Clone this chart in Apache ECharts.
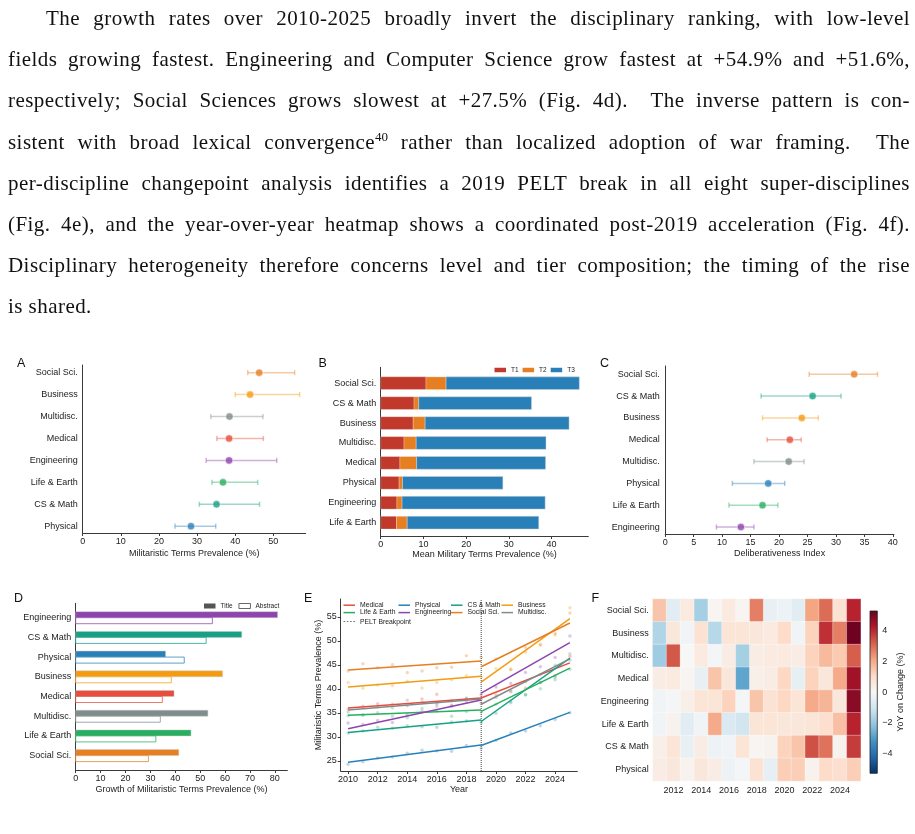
<!DOCTYPE html>
<html>
<head>
<meta charset="utf-8">
<title>Fig. 4</title>
<script src="https://cdn.jsdelivr.net/npm/echarts@6.0.0/dist/echarts.min.js"></script>
<style>
  html, body { margin: 0; padding: 0; background: #fff; }
  #page { position: relative; width: 915px; height: 834px; overflow: hidden; }
  #chart { position: absolute; left: 0; top: 0; width: 915px; height: 834px; }
  .ln { position: absolute; left: 8px; width: 902px; height: 26px; line-height: 26px;
        font-family: "Liberation Serif", "Times New Roman", serif; font-size: 21px; letter-spacing: 0.45px;
        color: #111; text-align: justify; text-align-last: justify; }
  .ln sup { font-size: 13px; line-height: 0; vertical-align: 0.6em; letter-spacing: 0; }
</style>
</head>
<body>
<div id="page">
  <div id="chart"></div>
  <div class="ln" style="top:5px; left:46px; width:864px;">The growth rates over 2010-2025 broadly invert the disciplinary ranking, with low-level</div>
  <div class="ln" style="top:46.2px;">fields growing fastest. Engineering and Computer Science grow fastest at +54.9% and +51.6%,</div>
  <div class="ln" style="top:87.4px;">respectively; Social Sciences grows slowest at +27.5% (Fig. 4d).&nbsp; The inverse pattern is con-</div>
  <div class="ln" style="top:128.6px;">sistent with broad lexical convergence<sup>40</sup> rather than localized adoption of war framing.&nbsp; The</div>
  <div class="ln" style="top:169.8px;">per-discipline changepoint analysis identifies a 2019 PELT break in all eight super-disciplines</div>
  <div class="ln" style="top:211px;">(Fig. 4e), and the year-over-year heatmap shows a coordinated post-2019 acceleration (Fig. 4f).</div>
  <div class="ln" style="top:252.2px;">Disciplinary heterogeneity therefore concerns level and tier composition; the timing of the rise</div>
  <div class="ln" style="top:293.4px; text-align-last:left;">is shared.</div>
</div>
<script>
// ---------- data ----------
// A: militaristic terms prevalence (mean, interval)
var catsA = ['Social Sci.', 'Business', 'Multidisc.', 'Medical', 'Engineering', 'Life & Earth', 'CS & Math', 'Physical'];
var meanA = [46.3, 43.9, 38.5, 38.4, 38.4, 36.8, 35.1, 28.4];
var loA   = [43.3, 40.0, 33.6, 35.2, 32.4, 33.9, 30.6, 24.2];
var hiA   = [55.6, 56.9, 47.3, 47.4, 50.9, 45.9, 46.4, 34.9];
var ticksA = [0, 10, 20, 30, 40, 50];

// B: tier composition
var catsB = ['Social Sci.', 'CS & Math', 'Business', 'Multidisc.', 'Medical', 'Physical', 'Engineering', 'Life & Earth'];
var t1B = [10.6, 7.8, 7.6, 5.45, 4.5, 4.3, 3.8, 3.7];
var t2B = [4.7, 1.1, 2.8, 2.85, 3.9, 0.8, 1.2, 2.5];
var t3B = [31.2, 26.4, 33.7, 30.4, 30.2, 23.5, 33.5, 30.8];
var ticksB = [0, 10, 20, 30, 40];

// C: deliberativeness index
var catsC = ['Social Sci.', 'CS & Math', 'Business', 'Medical', 'Multidisc.', 'Physical', 'Life & Earth', 'Engineering'];
var meanC = [33.2, 25.9, 24.0, 21.9, 21.7, 18.1, 17.1, 13.3];
var loC   = [25.3, 16.85, 17.1, 17.9, 15.6, 11.8, 11.2, 9.0];
var hiC   = [37.3, 30.9, 26.9, 23.9, 24.4, 21.0, 19.8, 15.6];
var ticksC = [0, 5, 10, 15, 20, 25, 30, 35, 40];

// D: growth, title vs abstract
var catsD = ['Engineering', 'CS & Math', 'Physical', 'Business', 'Medical', 'Multidisc.', 'Life & Earth', 'Social Sci.'];
var titleD    = [81.1, 66.7, 36.1, 59.0, 39.5, 53.1, 46.3, 41.4];
var abstractD = [54.9, 52.4, 43.6, 38.4, 34.8, 34.0, 32.2, 29.2];
var ticksD = [0, 10, 20, 30, 40, 50, 60, 70, 80];

// E: yearly prevalence + piecewise fits (2010 -> 2019, 2019 -> 2025)
var years = [2010, 2011, 2012, 2013, 2014, 2015, 2016, 2017, 2018, 2019, 2020, 2021, 2022, 2023, 2024, 2025];
var eMedical     = [35.8, 36.4, 36.9, 36.8, 36.5, 37.9, 38.9, 36.6, 37.3, 37.0, 38.7, 39.4, 40.1, 41.3, 42.8, 46.8];
var ePhysical    = [24.3, 24.8, 25.6, 25.8, 26.6, 27.2, 27.1, 27.0, 28.2, 27.7, 29.3, 30.8, 31.2, 32.3, 33.6, 35.0];
var eCSMath      = [30.8, 31.2, 32.0, 31.8, 32.3, 32.1, 32.0, 33.1, 33.3, 33.0, 34.9, 37.1, 38.7, 41.3, 42.4, 46.0];
var eBusiness    = [41.3, 40.1, 40.8, 40.7, 41.6, 40.2, 41.3, 41.9, 42.7, 42.5, 44.2, 44.0, 47.6, 49.0, 51.2, 56.9];
var eLifeEarth   = [34.4, 34.5, 35.0, 34.3, 34.0, 35.9, 35.4, 34.3, 35.3, 35.2, 36.8, 37.4, 38.8, 40.0, 41.9, 44.1];
var eEngineering = [32.9, 32.6, 33.4, 33.0, 34.6, 35.3, 36.9, 36.4, 37.9, 38.8, 40.4, 41.1, 43.4, 44.6, 46.5, 51.0];
var eSocial      = [43.7, 45.2, 44.4, 45.0, 43.4, 43.7, 44.4, 44.5, 46.9, 46.6, 46.2, 44.1, 48.6, 49.3, 51.5, 55.8];
var eMultidisc   = [35.2, 34.6, 36.2, 36.0, 37.6, 37.2, 36.4, 37.5, 38.1, 37.8, 38.2, 39.6, 41.5, 43.0, 44.9, 47.3];
var fMedical     = [36.0, 38.1, 38.1, 45.4];
var fPhysical    = [24.7, 28.3, 28.2, 35.1];
var fCSMath      = [30.9, 33.5, 33.2, 46.4];
var fBusiness    = [40.4, 42.6, 41.4, 54.6];
var fLifeEarth   = [34.5, 35.6, 35.3, 44.3];
var fEngineering = [31.7, 37.7, 39.1, 49.6];
var fSocial      = [43.9, 45.8, 44.6, 53.7];
var fMultidisc   = [35.6, 37.9, 36.8, 46.25];
var breakYear = 2019;
var ticksEx = [2010, 2012, 2014, 2016, 2018, 2020, 2022, 2024];
var ticksEy = [25, 30, 35, 40, 45, 50, 55];

// F: YoY change heatmap
var catsF = ['Social Sci.', 'Business', 'Multidisc.', 'Medical', 'Engineering', 'Life & Earth', 'CS & Math', 'Physical'];
var yearsF = ['2011', '2012', '2013', '2014', '2015', '2016', '2017', '2018', '2019', '2020', '2021', '2022', '2023', '2024', '2025'];
var hSocial      = [1.5, -0.6, 0.5, -1.8, 0.1, 0.5, 0.1, 2.7, -0.4, -0.3, -0.6, 2.1, 3.0, 0.8, 4.1];
var hBusiness    = [-1.6, 0.6, -0.2, 0.8, -1.5, 0.7, 0.7, 0.6, 0.5, 1.0, -0.2, 1.2, 3.9, 2.7, 5.2];
var hMultidisc   = [-1.9, 3.3, 0.0, 0.5, -0.1, 0.4, -1.8, 0.4, 0.5, 0.5, 0.4, 1.2, 1.7, 1.4, 3.2];
var hMedical     = [0.4, 0.5, 0.1, -0.4, 1.5, 0.6, -2.8, 0.3, 0.4, 1.1, -0.5, 1.2, 0.6, 2.0, 4.5];
var hEngineering = [-0.2, -0.1, 0.3, 0.7, 0.7, 1.2, -0.1, 1.5, 0.8, 1.1, 0.7, 2.0, 1.8, 0.6, 4.8];
var hLifeEarth   = [-0.2, 0.2, -0.6, -0.2, 2.0, -0.8, -1.0, 0.7, 0.7, 0.6, 0.6, 0.7, 0.9, 1.6, 4.1];
var hCSMath      = [0.3, 0.7, -0.4, 0.4, -0.3, -0.2, 0.7, 0.1, 0.2, 1.2, 1.5, 3.4, 2.9, 0.2, 3.7];
var hPhysical    = [0.4, 0.6, 0.2, 0.6, 0.4, -0.3, -0.1, 0.8, -0.5, 1.3, 1.3, 0.2, 1.0, 0.9, 1.3];
var ticksCB = [-4, -2, 0, 2, 4];

// ---------- styling ----------
var FONT = '"Liberation Sans", Arial, Helvetica, sans-serif';
var INK = '#222';
var AX = '#3a3a3a';
var discColor = {
  'Social Sci.': '#e67e22', 'Business': '#f39c12', 'Multidisc.': '#7f8c8d', 'Medical': '#e74c3c',
  'Engineering': '#8e44ad', 'Life & Earth': '#27ae60', 'CS & Math': '#16a085', 'Physical': '#2980b9'
};
var RdBu_r = ['#053061', '#2166ac', '#4393c3', '#92c5de', '#d1e5f0', '#f7f7f7',
              '#fddbc7', '#f4a582', '#d6604d', '#b2182b', '#67001f'];
var CB = {left: 870, top: 611, width: 7.3, height: 162.3, min: -5.3, max: 5.3};

function txt(size) { return {fontSize: size, color: INK, fontFamily: FONT}; }
function idxOf(arr) { return arr.map(function (c, i) { return i; }); }

function xValue(gi, min, max, ticks, name, gap) {
  return {
    type: 'value', gridIndex: gi, min: min, max: max,
    axisLine: {show: true, onZero: false, lineStyle: {color: AX, width: 1}},
    axisTick: {show: true, length: 3, customValues: ticks, lineStyle: {color: AX}},
    axisLabel: Object.assign({margin: 4, customValues: ticks,
      formatter: function (v) { return ticks.indexOf(v) >= 0 ? String(v) : ''; }}, txt(9)),
    splitLine: {show: false},
    name: name, nameLocation: 'middle', nameGap: gap, nameTextStyle: txt(9)
  };
}
function yIndex(gi, min, max, cats, margin) {
  return {
    type: 'value', gridIndex: gi, inverse: true, min: min, max: max,
    axisLine: {show: true, onZero: false, lineStyle: {color: AX, width: 1}},
    axisTick: {show: false},
    axisLabel: Object.assign({margin: margin, customValues: idxOf(cats),
      formatter: function (v) { return cats[v] || ''; }}, txt(9)),
    splitLine: {show: false}
  };
}

function errorBars(gi, cats, lo, hi) {
  return {
    type: 'custom', xAxisIndex: gi, yAxisIndex: gi, silent: true, z: 2,
    data: cats.map(function (c, i) { return [lo[i], hi[i], i]; }),
    renderItem: function (params, api) {
      var i = api.value(2);
      var a = api.coord([api.value(0), i]);
      var b = api.coord([api.value(1), i]);
      var col = discColor[cats[params.dataIndex]];
      function st() { return {stroke: col, lineWidth: 1.5, opacity: 0.42}; }
      var cap = 2.6;
      return {type: 'group', children: [
        {type: 'line', shape: {x1: a[0], y1: a[1], x2: b[0], y2: b[1]}, style: st()},
        {type: 'line', shape: {x1: a[0], y1: a[1] - cap, x2: a[0], y2: a[1] + cap}, style: st()},
        {type: 'line', shape: {x1: b[0], y1: b[1] - cap, x2: b[0], y2: b[1] + cap}, style: st()}
      ]};
    }
  };
}
function dots(gi, cats, mean) {
  return {
    type: 'scatter', xAxisIndex: gi, yAxisIndex: gi, silent: true, z: 3, symbolSize: 7.5,
    data: cats.map(function (c, i) {
      return {value: [mean[i], i], itemStyle: {color: discColor[c]}};
    }),
    itemStyle: {borderColor: 'rgba(255,255,255,0.7)', borderWidth: 1}
  };
}
// horizontal bar pieces: items are [x0, x1, yTop, yBottom]
function hbars(gi, name, color, items, styleFn) {
  return {
    type: 'custom', name: name, xAxisIndex: gi, yAxisIndex: gi, silent: true,
    itemStyle: {color: color},
    data: items,
    renderItem: function (params, api) {
      var p0 = api.coord([api.value(0), api.value(2)]);
      var p1 = api.coord([api.value(1), api.value(3)]);
      return {type: 'rect',
        shape: {x: p0[0], y: p0[1], width: p1[0] - p0[0], height: p1[1] - p0[1]},
        style: styleFn(params.dataIndex)};
    }
  };
}

// ---------- build ----------
var chart = echarts.init(document.getElementById('chart'));

var grids = [
  {left: 82.7, top: 365, width: 223, height: 168},      // A
  {left: 380.7, top: 367.3, width: 207.6, height: 168.7}, // B
  {left: 665.2, top: 366, width: 228.8, height: 168},   // C
  {left: 75.7, top: 603.3, width: 211.6, height: 166.7}, // D
  {left: 340.7, top: 599, width: 236.6, height: 172},   // E
  {left: 652.7, top: 599, width: 208, height: 182},     // F
  {left: CB.left, top: CB.top, width: CB.width, height: CB.height} // colourbar
];

var xAxes = [
  xValue(0, 0, 58.5, ticksA, 'Militaristic Terms Prevalence (%)', 16),
  xValue(1, 0, 48.6, ticksB, 'Mean Military Terms Prevalence (%)', 13.5),
  xValue(2, 0, 40.2, ticksC, 'Deliberativeness Index', 15.5),
  xValue(3, 0, 85, ticksD, 'Growth of Militaristic Terms Prevalence (%)', 15),
  xValue(4, 2009.5, 2025.5, ticksEx, 'Year', 13.5),
  {type: 'category', gridIndex: 5, data: yearsF,
    axisLine: {show: false}, axisTick: {show: false}, splitLine: {show: false},
    axisLabel: Object.assign({margin: 5, interval: function (i, v) { return (+v) % 2 === 0; }}, txt(9))},
  {type: 'value', gridIndex: 6, min: 0, max: 1, show: false}
];

var yAxes = [
  yIndex(0, -0.35, 7.31, catsA, 5),
  yIndex(1, -0.8, 7.67, catsB, 4.5),
  yIndex(2, -0.38, 7.32, catsC, 5.5),
  yIndex(3, -0.73, 7.73, catsD, 4.5),
  {type: 'value', gridIndex: 4, min: 22.9, max: 58.7,
    axisLine: {show: true, onZero: false, lineStyle: {color: AX, width: 1}},
    axisTick: {show: true, length: 3, customValues: ticksEy, lineStyle: {color: AX}},
    axisLabel: Object.assign({margin: 4, customValues: ticksEy,
      formatter: function (v) { return ticksEy.indexOf(v) >= 0 ? String(v) : ''; }}, txt(9)),
    splitLine: {show: false},
    name: 'Militaristic Terms Prevalence (%)', nameLocation: 'middle', nameGap: 17,
    nameTextStyle: txt(9)},
  {type: 'category', gridIndex: 5, data: catsF, inverse: true,
    axisLine: {show: false}, axisTick: {show: false}, splitLine: {show: false},
    axisLabel: Object.assign({margin: 4}, txt(9))},
  {type: 'value', gridIndex: 6, position: 'right', min: CB.min, max: CB.max,
    axisLine: {show: false},
    axisTick: {show: true, length: 3, customValues: ticksCB, lineStyle: {color: AX}},
    axisLabel: Object.assign({margin: 5, customValues: ticksCB,
      formatter: function (v) { return ticksCB.indexOf(v) < 0 ? '' : (v < 0 ? '\u2212' + (-v) : String(v)); }}, txt(9)),
    splitLine: {show: false},
    name: 'YoY on Change (%)', nameLocation: 'middle', nameGap: 15, nameRotate: 90,
    nameTextStyle: txt(9)}
];

var series = [];
// A
series.push(errorBars(0, catsA, loA, hiA));
series.push(dots(0, catsA, meanA));
// B
var tierCols = ['#c0392b', '#e67e22', '#2980b9'];
var hB = 0.32;
series.push(hbars(1, 'T1', tierCols[0], catsB.map(function (c, i) {
  return [0, t1B[i], i - hB, i + hB]; }),
  function () { return {fill: tierCols[0], stroke: 'rgba(255,255,255,0.5)', lineWidth: 0.5}; }));
series.push(hbars(1, 'T2', tierCols[1], catsB.map(function (c, i) {
  return [t1B[i], t1B[i] + t2B[i], i - hB, i + hB]; }),
  function () { return {fill: tierCols[1], stroke: 'rgba(255,255,255,0.5)', lineWidth: 0.5}; }));
series.push(hbars(1, 'T3', tierCols[2], catsB.map(function (c, i) {
  return [t1B[i] + t2B[i], t1B[i] + t2B[i] + t3B[i], i - hB, i + hB]; }),
  function () { return {fill: tierCols[2], stroke: 'rgba(210,210,210,0.8)', lineWidth: 0.6}; }));
// C
series.push(errorBars(2, catsC, loC, hiC));
series.push(dots(2, catsC, meanC));
// D
var hD = 0.305;
series.push(hbars(3, 'Title', '#555', catsD.map(function (c, i) {
  return [0, titleD[i], i - hD, i]; }),
  function (k) { return {fill: discColor[catsD[k]], stroke: 'rgba(200,200,200,0.8)', lineWidth: 0.6}; }));
series.push(hbars(3, 'Abstract', '#fff', catsD.map(function (c, i) {
  return [0, abstractD[i], i, i + hD]; }),
  function (k) { return {fill: '#fff', stroke: discColor[catsD[k]], strokeOpacity: 0.75, lineWidth: 1}; }));
// E
var eNames = ['Medical', 'Physical', 'CS & Math', 'Business', 'Life & Earth', 'Engineering', 'Social Sci.', 'Multidisc.'];
var ePts = [eMedical, ePhysical, eCSMath, eBusiness, eLifeEarth, eEngineering, eSocial, eMultidisc];
var eFits = [fMedical, fPhysical, fCSMath, fBusiness, fLifeEarth, fEngineering, fSocial, fMultidisc];
eNames.forEach(function (nm, k) {
  var col = discColor[nm];
  series.push({type: 'scatter', name: nm + ' (yearly)', xAxisIndex: 4, yAxisIndex: 4, silent: true, z: 1,
    symbolSize: 3.5, itemStyle: {color: col, opacity: 0.3},
    data: years.map(function (y, i) { return [y, ePts[k][i]]; })});
});
eNames.forEach(function (nm, k) {
  var col = discColor[nm], f = eFits[k];
  var base = {type: 'line', name: nm, xAxisIndex: 4, yAxisIndex: 4, silent: true, z: 3,
    symbol: 'none', showSymbol: false, itemStyle: {color: col}, lineStyle: {color: col, width: 1.5}};
  series.push(Object.assign({}, base, {data: [[years[0], f[0]], [breakYear, f[1]]]}));
  series.push(Object.assign({}, base, {data: [[breakYear, f[2]], [years[years.length - 1], f[3]]]}));
});
series.push({type: 'line', name: 'PELT Breakpoint', xAxisIndex: 4, yAxisIndex: 4, silent: true, z: 2,
  symbol: 'none', showSymbol: false, itemStyle: {color: '#444'},
  lineStyle: {color: '#444', width: 1, type: 'dotted'},
  data: [[breakYear, 22.9], [breakYear, 58.7]]});
// F
var heatRows = [hSocial, hBusiness, hMultidisc, hMedical, hEngineering, hLifeEarth, hCSMath, hPhysical];
var heatData = [];
heatRows.forEach(function (row, r) {
  row.forEach(function (v, c) { heatData.push([c, r, v]); });
});
var heatIndex = series.length;
series.push({type: 'heatmap', xAxisIndex: 5, yAxisIndex: 5, data: heatData, silent: true,
  itemStyle: {borderColor: 'rgba(255,255,255,0.55)', borderWidth: 0.6}});
// colourbar axis holder
series.push({type: 'line', xAxisIndex: 6, yAxisIndex: 6, data: [], silent: true});

function legendBase(extra) {
  return Object.assign({selectedMode: false, padding: 0, orient: 'horizontal',
    textStyle: txt(6.8)}, extra);
}
var lineIcon = 'rect';
var dotIcon = 'path://M0,0h2v1h-2z M4,0h2v1h-2z M8,0h2v1h-2z M12,0h2v1h-2z';
function eLegend(names, left) {
  return legendBase({data: names, left: left, top: 601.5, orient: 'vertical', icon: lineIcon,
    itemWidth: 11.5, itemHeight: 1.5, itemGap: 0, textStyle: Object.assign(txt(6.8), {lineHeight: 7.4})});
}
var legends = [
  legendBase({data: ['T1', 'T2', 'T3'], left: 494.5, top: 366.5, icon: 'rect',
    itemWidth: 11.5, itemHeight: 4.5, itemGap: 4, textStyle: txt(6.5)}),
  legendBase({data: ['Title', {name: 'Abstract', itemStyle: {color: '#fff', borderColor: '#444', borderWidth: 0.8}}],
    left: 204, top: 602.5, icon: 'rect', itemWidth: 11.5, itemHeight: 5, itemGap: 6, textStyle: txt(6.5)}),
  eLegend(['Medical', 'Life & Earth'], 343.5),
  eLegend(['Physical', 'Engineering'], 398.5),
  eLegend(['CS & Math', 'Social Sci.'], 451),
  eLegend(['Business', 'Multidisc.'], 501.5),
  legendBase({data: ['PELT Breakpoint'], left: 343.5, top: 618, icon: dotIcon,
    itemWidth: 11.5, itemHeight: 1.2, textStyle: Object.assign(txt(6.8), {lineHeight: 7.4})})
];

var cbStops = RdBu_r.slice().reverse().map(function (c, i) {
  return {offset: i / (RdBu_r.length - 1), color: c};
});
var letters = [['A', 17, 364], ['B', 318.5, 364], ['C', 600, 364], ['D', 14, 598.5], ['E', 304, 598.5], ['F', 591.5, 598.5]];

chart.setOption({
  animation: false,
  backgroundColor: 'transparent',
  grid: grids,
  xAxis: xAxes,
  yAxis: yAxes,
  legend: legends,
  visualMap: {type: 'continuous', show: false, min: CB.min, max: CB.max, seriesIndex: heatIndex,
    inRange: {color: RdBu_r}},
  series: series,
  graphic: letters.map(function (l) {
    return {type: 'text', x: l[1], y: l[2], silent: true,
      style: {text: l[0], fontSize: 12.5, fill: '#111', fontFamily: FONT, verticalAlign: 'middle'}};
  }).concat([{type: 'rect', silent: true, z: 10,
    shape: {x: CB.left, y: CB.top, width: CB.width, height: CB.height},
    style: {fill: new echarts.graphic.LinearGradient(0, 0, 0, 1, cbStops), stroke: '#222', lineWidth: 0.8}}])
});
</script>
</body>
</html>
